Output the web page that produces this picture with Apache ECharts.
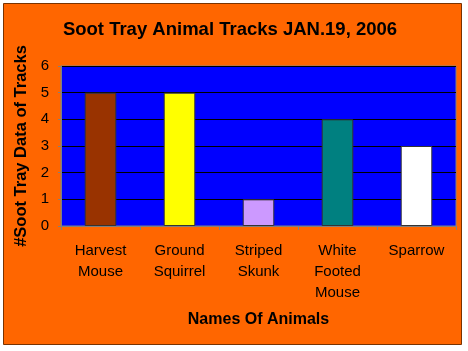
<!DOCTYPE html>
<html>
<head>
<meta charset="utf-8">
<script src="https://cdn.jsdelivr.net/npm/echarts@6/dist/echarts.min.js"></script>
<style>
  html, body { margin: 0; padding: 0; background: #fff; }
  #chart { width: 468px; height: 351px; }
</style>
</head>
<body>
<div id="chart"></div>
<script>
    // data
    const animals = ['Harvest\nMouse', 'Ground\nSquirrel', 'Striped\nSkunk', 'White\nFooted\nMouse', 'Sparrow']
    const tracks = [5, 5, 1, 4, 3]
    const barColors = ['#993300', '#FFFF00', '#CC99FF', '#008080', '#FFFFFF']
    const yTicks = [0, 1, 2, 3, 4, 5, 6]

    const font = 'Liberation Sans, Arial, sans-serif'
    const chart = echarts.init(document.getElementById('chart'))

    const option = {
        backgroundColor: '#fff',
        animation: false,
        graphic: [
            {
                type: 'rect',
                z: -10,
                shape: { x: 3.5, y: 3.5, width: 458, height: 341 },
                style: { fill: '#FF6600', stroke: '#7a3300', lineWidth: 1 }
            }
        ],
        title: {
            text: 'Soot Tray Animal Tracks JAN.19, 2006',
            left: 225,
            textAlign: 'center',
            top: 15,
            textStyle: { fontFamily: font, fontSize: 18.5, fontWeight: 'bold', color: '#000' }
        },
        grid: {
            left: 61,
            top: 66,
            width: 395,
            height: 160,
            show: true,
            backgroundColor: '#0000FF',
            borderColor: '#808080',
            borderWidth: 1
        },
        xAxis: {
            type: 'category',
            data: animals,
            name: 'Names Of Animals',
            nameLocation: 'middle',
            nameGap: 86,
            nameTextStyle: { fontFamily: font, fontSize: 16, fontWeight: 'bold', color: '#000' },
            axisLine: { lineStyle: { color: '#808080' } },
            axisTick: { show: true, length: 4, lineStyle: { color: '#808080' } },
            axisLabel: {
                fontFamily: font, fontSize: 15, color: '#000',
                lineHeight: 21, margin: 14, interval: 0
            }
        },
        yAxis: {
            type: 'value',
            min: 0,
            max: yTicks[yTicks.length - 1],
            interval: 1,
            name: '#Soot Tray Data of Tracks',
            nameLocation: 'middle',
            nameGap: 31,
            nameTextStyle: { fontFamily: font, fontSize: 16.5, fontWeight: 'bold', color: '#000' },
            axisLine: { show: true, lineStyle: { color: '#808080' } },
            axisTick: { show: true, length: 3, lineStyle: { color: '#808080' } },
            axisLabel: { fontFamily: font, fontSize: 15, color: '#000', margin: 12 },
            splitLine: { lineStyle: { color: '#000000', width: 1 } }
        },
        series: [
            {
                type: 'bar',
                barWidth: '40%',
                data: tracks.map((v, i) => ({
                    value: v,
                    itemStyle: { color: barColors[i], borderColor: '#333', borderWidth: 1 }
                }))
            }
        ]
    }

    chart.setOption(option)
</script>
</body>
</html>
